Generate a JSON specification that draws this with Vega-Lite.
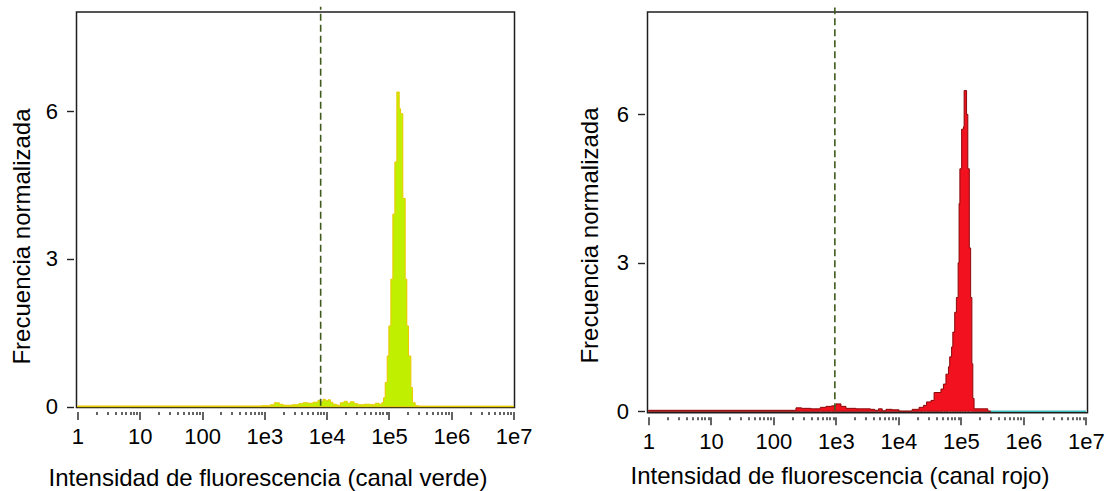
{
  "$schema": "https://vega.github.io/schema/vega-lite/v6.json",
  "padding": {"left": 9.5, "top": 5, "right": 0, "bottom": 0},
  "bounds": "flush",
  "spacing": 133,
  "background": "white",
  "config": {
    "font": "Liberation Sans",
    "view": {"stroke": "#1e1e1e", "strokeWidth": 1.5},
    "axis": {
      "labelFont": "Liberation Sans", "titleFont": "Liberation Sans",
      "labelColor": "#000", "titleColor": "#000", "titleFontWeight": "normal",
      "labelFontSize": 22, "titleFontSize": 24,
      "domain": false, "grid": false, "tickColor": "#222", "tickWidth": 1.4
    }
  },
  "datasets": {
    "green": [
      {"x": 1, "y": 0.015}, {"x": 891, "y": 0.02}, {"x": 1259, "y": 0.04}, {"x": 1445, "y": 0.08},
      {"x": 1738, "y": 0.05}, {"x": 1995, "y": 0.03}, {"x": 2818, "y": 0.04}, {"x": 3548, "y": 0.06},
      {"x": 4169, "y": 0.08}, {"x": 5012, "y": 0.07}, {"x": 6026, "y": 0.09}, {"x": 7244, "y": 0.13},
      {"x": 7943, "y": 0.10}, {"x": 8710, "y": 0.15}, {"x": 9550, "y": 0.12}, {"x": 10471, "y": 0.14},
      {"x": 11482, "y": 0.09}, {"x": 12589, "y": 0.05}, {"x": 14454, "y": 0.03}, {"x": 16596, "y": 0.08},
      {"x": 19055, "y": 0.11}, {"x": 21380, "y": 0.07}, {"x": 23988, "y": 0.10}, {"x": 27542, "y": 0.06},
      {"x": 31623, "y": 0.04}, {"x": 39811, "y": 0.05}, {"x": 50119, "y": 0.04}, {"x": 60256, "y": 0.07},
      {"x": 69660, "y": 0.05}, {"x": 76740, "y": 0.08}, {"x": 81660, "y": 0.18}, {"x": 86900, "y": 0.49},
      {"x": 93540, "y": 1.03}, {"x": 99540, "y": 1.64}, {"x": 107150, "y": 2.59}, {"x": 115350, "y": 3.91},
      {"x": 124170, "y": 4.97}, {"x": 133660, "y": 6.39}, {"x": 145880, "y": 6.05}, {"x": 153110, "y": 5.95},
      {"x": 166720, "y": 4.23}, {"x": 181970, "y": 2.59}, {"x": 193200, "y": 1.64}, {"x": 205590, "y": 1.03},
      {"x": 224390, "y": 0.39}, {"x": 238780, "y": 0.08}, {"x": 263630, "y": 0.02}, {"x": 297850, "y": 0.012},
      {"x": 10000000, "y": 0.012}
    ],
    "red": [
      {"x": 1, "y": 0.02}, {"x": 229, "y": 0.07}, {"x": 282, "y": 0.06}, {"x": 398, "y": 0.05},
      {"x": 562, "y": 0.08}, {"x": 692, "y": 0.10}, {"x": 851, "y": 0.11}, {"x": 1000, "y": 0.15},
      {"x": 1202, "y": 0.10}, {"x": 1445, "y": 0.06}, {"x": 2089, "y": 0.05}, {"x": 3548, "y": 0.04},
      {"x": 4169, "y": 0.02}, {"x": 4786, "y": 0.05}, {"x": 5495, "y": 0.01}, {"x": 6310, "y": 0.04},
      {"x": 7943, "y": 0.03}, {"x": 10233, "y": 0.005}, {"x": 16596, "y": 0.04}, {"x": 21380, "y": 0.08},
      {"x": 25119, "y": 0.12}, {"x": 28184, "y": 0.19}, {"x": 33113, "y": 0.22}, {"x": 37154, "y": 0.38},
      {"x": 47863, "y": 0.45}, {"x": 52481, "y": 0.55}, {"x": 57544, "y": 0.75}, {"x": 63096, "y": 0.9},
      {"x": 66069, "y": 1.1}, {"x": 70795, "y": 1.3}, {"x": 74131, "y": 1.6}, {"x": 79433, "y": 2.0},
      {"x": 84528, "y": 2.3}, {"x": 90157, "y": 3.0}, {"x": 93325, "y": 4.2}, {"x": 96161, "y": 4.9},
      {"x": 102565, "y": 5.7}, {"x": 109648, "y": 5.75}, {"x": 112460, "y": 6.48}, {"x": 123027, "y": 6.0},
      {"x": 128825, "y": 4.9}, {"x": 136144, "y": 3.3}, {"x": 142889, "y": 2.3}, {"x": 149624, "y": 0.96},
      {"x": 154882, "y": 0.26}, {"x": 162181, "y": 0.05}, {"x": 269153, "y": 0.005}, {"x": 301995, "y": 0.005}
    ],
    "cyan": [{"x": 301995, "y": 0}, {"x": 10000000, "y": 0}],
    "thrGreen": [{"t": 8000}],
    "thrRed": [{"t": 960}]
  },
  "hconcat": [
    {
      "width": 438, "height": 395.5,
      "layer": [
        {
          "data": {"name": "green"},
          "mark": {"type": "area", "interpolate": "step-after", "fill": "#c0f000", "stroke": "#ecc800", "strokeWidth": 1, "fillOpacity": 1},
          "encoding": {
            "x": {"field": "x", "type": "quantitative",
              "scale": {"type": "log", "domain": [0.964, 10340000], "nice": false},
              "axis": {
                "values": [1,2,3,4,5,6,7,8,9,10,20,30,40,50,60,70,80,90,100,200,300,400,500,600,700,800,900,1000,2000,3000,4000,5000,6000,7000,8000,9000,10000,20000,30000,40000,50000,60000,70000,80000,90000,100000,200000,300000,400000,500000,600000,700000,800000,900000,1000000,2000000,3000000,4000000,5000000,6000000,7000000,8000000,9000000,10000000],
                "labelExpr": "datum.value == 1 ? '1' : datum.value == 10 ? '10' : datum.value == 100 ? '100' : datum.value == 1000 ? '1e3' : datum.value == 10000 ? '1e4' : datum.value == 100000 ? '1e5' : datum.value == 1000000 ? '1e6' : datum.value == 10000000 ? '1e7' : ''",
                "labelOverlap": false, "labelFlush": false,
                "tickSize": {"condition": {"test": "indexof([1,10,100,1000,10000,100000,1000000,10000000], datum.value) >= 0", "value": 8}, "value": 3},
                "offset": 4, "labelPadding": 7,
                "title": "Intensidad de fluorescencia (canal verde)",
                "titleX": 191, "titleY": 74, "titleBaseline": "alphabetic", "titleAlign": "center"
              }
            },
            "y": {"field": "y", "type": "quantitative",
              "scale": {"domain": [-0.016, 8.014], "nice": false, "zero": false},
              "axis": {"values": [0, 3, 6], "tickSize": 7, "offset": 3, "labelPadding": 9,
                "title": "Frecuencia normalizada", "titleX": -44, "titleY": 224, "titleBaseline": "alphabetic", "titleAlign": "center", "titleAngle": -90}
            }
          }
        },
        {
          "data": {"name": "thrGreen"},
          "mark": {"type": "rule", "color": "#3f5a1c", "strokeWidth": 1.6, "strokeDash": [7, 4], "clip": false},
          "encoding": {
            "x": {"field": "t", "type": "quantitative"},
            "y": {"datum": 0.02},
            "y2": {"datum": 8.12}
          }
        }
      ]
    },
    {
      "width": 440, "height": 400.7,
      "layer": [
        {
          "data": {"name": "red"},
          "mark": {"type": "area", "interpolate": "step-after", "fill": "#f2111f", "stroke": "#8a0a0a", "strokeWidth": 1, "fillOpacity": 1},
          "encoding": {
            "x": {"field": "x", "type": "quantitative",
              "scale": {"type": "log", "domain": [0.964, 10600000], "nice": false},
              "axis": {
                "values": [1,2,3,4,5,6,7,8,9,10,20,30,40,50,60,70,80,90,100,200,300,400,500,600,700,800,900,1000,2000,3000,4000,5000,6000,7000,8000,9000,10000,20000,30000,40000,50000,60000,70000,80000,90000,100000,200000,300000,400000,500000,600000,700000,800000,900000,1000000,2000000,3000000,4000000,5000000,6000000,7000000,8000000,9000000,10000000],
                "labelExpr": "datum.value == 1 ? '1' : datum.value == 10 ? '10' : datum.value == 100 ? '100' : datum.value == 1000 ? '1e3' : datum.value == 10000 ? '1e4' : datum.value == 100000 ? '1e5' : datum.value == 1000000 ? '1e6' : datum.value == 10000000 ? '1e7' : ''",
                "labelOverlap": false, "labelFlush": false,
                "tickSize": {"condition": {"test": "indexof([1,10,100,1000,10000,100000,1000000,10000000], datum.value) >= 0", "value": 8}, "value": 3},
                "offset": 4, "labelPadding": 7,
                "title": "Intensidad de fluorescencia (canal rojo)",
                "titleX": 192, "titleY": 67, "titleBaseline": "alphabetic", "titleAlign": "center"
              }
            },
            "y": {"field": "y", "type": "quantitative",
              "scale": {"domain": [-0.028, 8.067], "nice": false, "zero": false},
              "axis": {"values": [0, 3, 6], "tickSize": 7, "offset": 3, "labelPadding": 9,
                "title": "Frecuencia normalizada", "titleX": -47, "titleY": 223, "titleBaseline": "alphabetic", "titleAlign": "center", "titleAngle": -90}
            }
          }
        },
        {
          "data": {"name": "cyan"},
          "mark": {"type": "line", "color": "#3fbcbc", "strokeWidth": 1.5},
          "encoding": {
            "x": {"field": "x", "type": "quantitative"},
            "y": {"field": "y", "type": "quantitative"}
          }
        },
        {
          "data": {"name": "thrRed"},
          "mark": {"type": "rule", "color": "#3f5a1c", "strokeWidth": 1.6, "strokeDash": [7, 4], "clip": false},
          "encoding": {
            "x": {"field": "t", "type": "quantitative"},
            "y": {"datum": 0.02},
            "y2": {"datum": 8.16}
          }
        }
      ]
    }
  ]
}
